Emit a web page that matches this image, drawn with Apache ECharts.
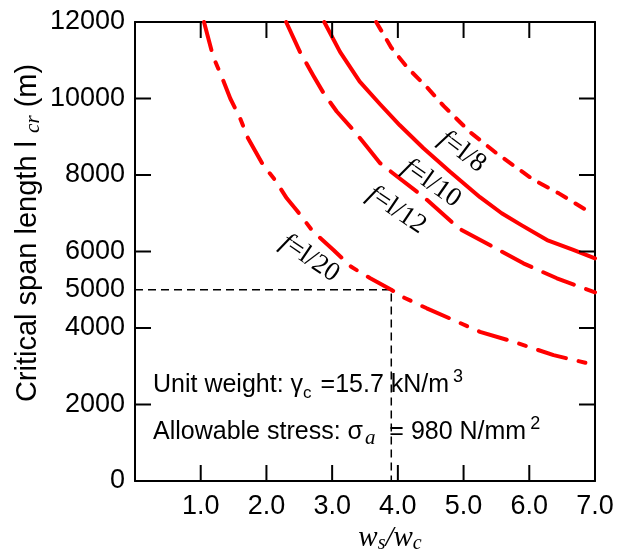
<!DOCTYPE html>
<html><head><meta charset="utf-8">
<script src="https://cdn.jsdelivr.net/npm/echarts@6/dist/echarts.min.js"></script>
<style>html,body{margin:0;padding:0;background:#fff}#c{width:623px;height:554px}</style>
</head><body><div id="c"></div>
<script>
// ---- data ----
const xLabels = [1, 2, 3, 4, 5, 6, 7];
const yLabels = [0, 2000, 4000, 5000, 6000, 8000, 10000, 12000];
const xTickVals = [1, 2, 3, 4, 5, 6];
const yTickVals = [2000, 4000, 6000, 8000, 10000];

const curve8 = [[3.67,12000],[3.90,11330],[4.15,10800],[4.44,10300],[4.70,9800],[5.10,9120],[5.50,8570],[6.06,7880],[6.45,7520],[6.88,7070]];
const curve10 = [[2.88,12000],[3.12,11220],[3.42,10440],[3.73,9850],[4.03,9300],[4.39,8700],[4.79,8090],[5.25,7420],[5.58,7000],[5.88,6690],[6.27,6300],[6.67,6040],[7.0,5820]];
const curve12 = [[2.30,12000],[2.51,11220],[2.71,10610],[2.87,10140],[3.07,9660],[3.32,9180],[3.53,8740],[3.73,8310],[3.93,8040],[4.39,7430],[4.93,6600],[5.45,6120],[5.91,5690],[6.42,5300],[7.0,4930]];
const curve20 = [[1.05,12000],[1.19,11090],[1.32,10570],[1.45,10000],[1.60,9480],[1.72,8960],[1.95,8260],[2.13,7870],[2.31,7390],[2.46,7080],[2.71,6520],[3.02,6040],[3.29,5600],[3.58,5300],[3.90,5000],[4.05,4830],[4.44,4515],[4.79,4250],[5.25,3900],[5.76,3640],[6.37,3290],[7.0,3030]];
const refLine = [[0,5000],[3.9,5000],[3.9,0]];

const curveLabels = [
  {n: '8',  w: 4.98, v: 8609, rot: -37},
  {n: '10', w: 4.515, v: 7783, rot: -35},
  {n: '12', w: 3.98, v: 7085, rot: -34},
  {n: '20', w: 2.66, v: 5822, rot: -34}
];

// ---- chart ----
const chart = echarts.init(document.getElementById('c'), null, {renderer: 'canvas'});
const SANS = 'Liberation Sans, Arial, sans-serif';
const SERIF = 'Liberation Serif, Times New Roman, serif';
const TL = 16;
const lineAx = {show: true, onZero: false, lineStyle: {color: '#000', width: 2}};

function curve(data, type) {
  return {type: 'line', data: data, showSymbol: false, symbol: 'none', silent: true,
    lineStyle: {color: '#ff0000', width: 4, type: type, cap: 'round', join: 'round'}, z: 3};
}

// inside tick marks drawn through the axes' scale (custom series)
function tickSeries(vals, dir) {
  return {type: 'custom', silent: true, z: 5, clip: false,
    data: vals.map(v => [v]),
    encode: dir === 'x' ? {x: 0} : {y: 0},
    renderItem: function (params, api) {
      const v = api.value(0);
      const children = [];
      if (dir === 'x') {
        const pb = api.coord([v, 0]);
        const pt = api.coord([v, 12000]);
        children.push({type: 'line', shape: {x1: pb[0], y1: pb[1], x2: pb[0], y2: pb[1] - TL}, style: {stroke: '#000', lineWidth: 2}});
        children.push({type: 'line', shape: {x1: pt[0], y1: pt[1], x2: pt[0], y2: pt[1] + TL}, style: {stroke: '#000', lineWidth: 2}});
      } else {
        const pl = api.coord([0, v]);
        const pr = api.coord([7, v]);
        children.push({type: 'line', shape: {x1: pl[0], y1: pl[1], x2: pl[0] + TL, y2: pl[1]}, style: {stroke: '#000', lineWidth: 2}});
        children.push({type: 'line', shape: {x1: pr[0], y1: pr[1], x2: pr[0] - TL, y2: pr[1]}, style: {stroke: '#000', lineWidth: 2}});
      }
      return {type: 'group', children: children};
    }};
}

chart.setOption({
  animation: false,
  grid: {left: 135, top: 22, right: 28, bottom: 73, containLabel: false},
  xAxis: [
    {type: 'value', min: 0, max: 7, interval: 1, position: 'bottom',
      axisLine: lineAx, splitLine: {show: false}, axisTick: {show: false},
      axisLabel: {customValues: xLabels, formatter: v => v.toFixed(1), fontFamily: SANS, fontSize: 27, color: '#000', margin: 12}},
    {type: 'value', min: 0, max: 7, interval: 1, position: 'top',
      axisLine: lineAx, splitLine: {show: false}, axisTick: {show: false},
      axisLabel: {show: false}}
  ],
  yAxis: [
    {type: 'value', min: 0, max: 12000, interval: 2000, position: 'left',
      axisLine: lineAx, splitLine: {show: false}, axisTick: {show: false},
      axisLabel: {customValues: yLabels, formatter: v => String(v), fontFamily: SANS, fontSize: 27, color: '#000', margin: 10}},
    {type: 'value', min: 0, max: 12000, interval: 2000, position: 'right',
      axisLine: lineAx, splitLine: {show: false}, axisTick: {show: false},
      axisLabel: {show: false}}
  ],
  series: [
    curve(curve8, [10, 11]),
    curve(curve10, 'solid'),
    curve(curve12, [33, 13]),
    curve(curve20, [29, 13, 7, 13]),
    {type: 'line', data: refLine, showSymbol: false, symbol: 'none', silent: true,
      lineStyle: {color: '#000', width: 1.5, type: [8, 5]}, z: 2},
    tickSeries(xTickVals, 'x'),
    tickSeries(yTickVals, 'y')
  ]
});

const graphics = [];
curveLabels.forEach(l => {
  const p = chart.convertToPixel({xAxisIndex: 0, yAxisIndex: 0}, [l.w, l.v]);
  graphics.push({type: 'text', x: p[0], y: p[1], rotation: l.rot * Math.PI / 180, z: 10,
    style: {text: '{f|f}{t|=l/' + l.n + '}', align: 'center', verticalAlign: 'middle',
      rich: {f: {fontFamily: SERIF, fontStyle: 'italic', fontSize: 27, fill: '#000'},
             t: {fontFamily: SERIF, fontSize: 27, fill: '#000'}}}});
});
// y axis name
graphics.push({type: 'text', x: 28, y: 233, rotation: Math.PI / 2, z: 10,
  style: {text: '{a|Critical span length l }{b|cr}{a| (m)}', align: 'center', verticalAlign: 'middle',
    rich: {a: {fontFamily: SANS, fontSize: 29, fill: '#000', lineHeight: 32},
           b: {fontFamily: SERIF, fontStyle: 'italic', fontSize: 21, fill: '#000', verticalAlign: 'bottom', lineHeight: 32}}}});
// x axis name
graphics.push({type: 'text', x: 390, y: 538, z: 10,
  style: {text: '{w|w}{s|s}{w|/w}{s|c}', align: 'center', verticalAlign: 'middle',
    rich: {w: {fontFamily: SERIF, fontStyle: 'italic', fontSize: 29, fill: '#000', lineHeight: 32},
           s: {fontFamily: SERIF, fontStyle: 'italic', fontSize: 20, fill: '#000', verticalAlign: 'bottom', lineHeight: 32}}}});
// annotations
const annRich = {
  n: {fontFamily: SANS, fontSize: 25, fill: '#000', lineHeight: 34},
  n2: {fontFamily: SANS, fontSize: 25, fill: '#000', lineHeight: 34, padding: [0, 0, 0, 6]},
  sub: {fontFamily: SANS, fontSize: 17, fill: '#000', verticalAlign: 'bottom', lineHeight: 30, padding: [0, 3, 0, 0]},
  suba: {fontFamily: SERIF, fontStyle: 'italic', fontSize: 21, fill: '#000', verticalAlign: 'bottom', lineHeight: 30, padding: [0, 0, 0, 2]},
  sup: {fontFamily: SANS, fontSize: 18, fill: '#000', verticalAlign: 'top', lineHeight: 34, padding: [0, 0, 0, 4]}
};
graphics.push({type: 'text', x: 153, y: 385, z: 10,
  style: {text: '{n|Unit weight: γ}{sub|c}{n2|=15.7 kN/m}{sup|3}', align: 'left', verticalAlign: 'middle', rich: annRich}});
graphics.push({type: 'text', x: 153, y: 432, z: 10,
  style: {text: '{n|Allowable stress: σ}{suba|a}{n|  = 980 N/mm}{sup|2}', align: 'left', verticalAlign: 'middle', rich: annRich}});
chart.setOption({graphic: graphics});
</script>
</body></html>
